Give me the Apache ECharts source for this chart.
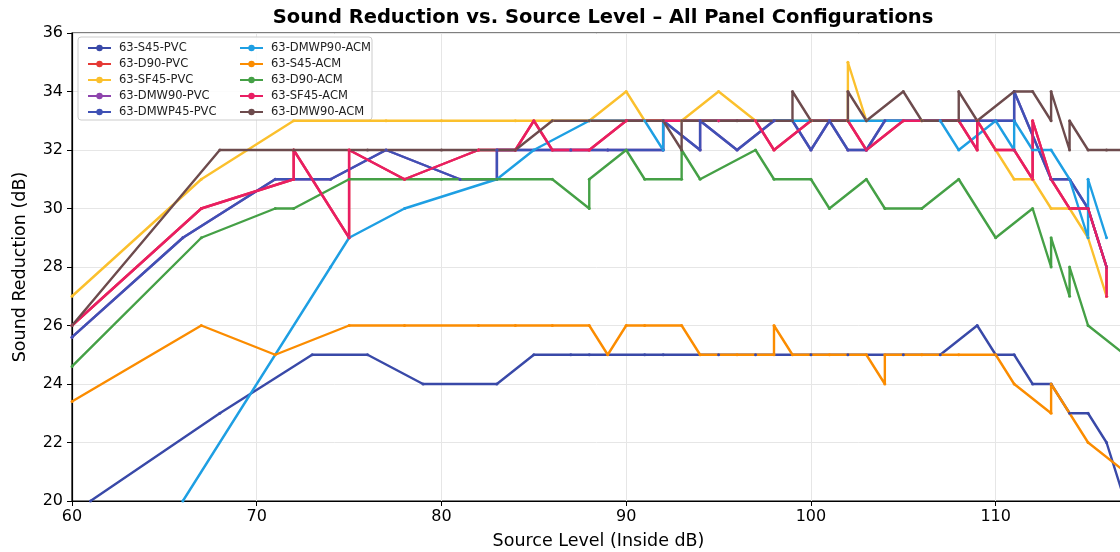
<!DOCTYPE html>
<html>
<head>
<meta charset="utf-8">
<script src="https://cdn.jsdelivr.net/npm/echarts@6/dist/echarts.min.js"></script>
<style>
html,body{margin:0;padding:0;background:#fff;}
#chart{width:1120px;height:552px;}
</style>
</head>
<body>
<div id="chart"></div>
<script>
// ---- Data (x = source level, y = sound reduction) ----
const seriesNames = ['63-S45-PVC','63-D90-PVC','63-SF45-PVC','63-DMW90-PVC','63-DMWP45-PVC',
                     '63-DMWP90-ACM','63-S45-ACM','63-D90-ACM','63-SF45-ACM','63-DMW90-ACM'];
const seriesColors = ['#3949a8','#e53935','#fbc02d','#8e44ad','#3f51b5',
                      '#1e9fe3','#fb8c00','#45a046','#e91e63','#6d4b4d'];

const s45PVC = [[61,20],[68,23],[73,25],[76,25],[79,24],[83,24],[85,25],[87,25],[88,25],[91,25],[92,25],[95,25],[97,25],[100,25],[102,25],[105,25],[107,25],[109,26],[110,25],[111,25],[112,24],[113,24],[114,23],[115,23],[116,22],[117,20]];
const sf45ACM = [[60,26],[67,30],[72,31],[72,32],[75,29],[75,32],[78,31],[82,32],[84,32],[85,33],[86,32],[88,32],[90,33],[92,33],[95,33],[97,33],[98,32],[100,33],[102,33],[103,32],[105,33],[108,33],[109,32],[109,33],[110,32],[111,32],[112,31],[112,33],[113,31],[114,30],[115,30],[116,28],[116,27]];
const d90PVC = sf45ACM.map(p => p.slice());
const sf45PVC = [[60,27],[67,31],[72,33],[77,33],[80,33],[84,33],[86,33],[88,33],[90,34],[91,33],[93,33],[95,34],[97,33],[100,33],[102,33],[102,35],[103,33],[106,33],[109,33],[110,32],[111,31],[112,31],[113,30],[114,30],[115,29],[116,27]];
const dmwp45PVC = [[60,25.6],[66,29],[71,31],[74,31],[77,32],[81,31],[83,31],[83,32],[87,32],[89,32],[92,32],[92,33],[94,32],[94,33],[96,32],[98,33],[99,33],[100,32],[101,33],[102,32],[103,32],[104,33],[107,33],[110,33],[111,33],[111,34],[113,31],[114,31],[115,30],[116,28]];
const dmw90PVC = dmwp45PVC.map(p => p.slice());
const dmwp90ACM = [[66,20],[74,28],[75,29],[78,30],[83,31],[85,32],[88,33],[91,33],[92,32],[92,33],[95,33],[99,33],[103,33],[107,33],[108,32],[110,33],[111,32],[111,33],[112,32],[113,32],[114,31],[115,29],[115,31],[116,29]];
const s45ACM = [[60,23.4],[67,26],[71,25],[75,26],[78,26],[82,26],[84,26],[86,26],[88,26],[89,25],[90,26],[91,26],[93,26],[94,25],[96,25],[98,25],[98,26],[99,25],[101,25],[103,25],[104,24],[104,25],[106,25],[108,25],[110,25],[111,24],[113,23],[113,24],[115,22],[117,21]];
const d90ACM = [[60,24.6],[67,29],[71,30],[72,30],[75,31],[80,31],[83,31],[86,31],[88,30],[88,31],[90,32],[91,31],[93,31],[93,32],[94,31],[97,32],[98,31],[100,31],[101,30],[103,31],[104,30],[106,30],[108,31],[110,29],[112,30],[113,28],[113,29],[114,27],[114,28],[115,26],[117,25]];
const dmw90ACM = [[60,26],[68,32],[72,32],[76,32],[80,32],[84,32],[86,33],[88,33],[92,33],[93,32],[93,33],[96,33],[99,33],[99,34],[100,33],[102,33],[102,34],[103,33],[105,34],[106,33],[108,33],[108,34],[109,33],[111,34],[112,34],[113,33],[113,34],[114,32],[114,33],[115,32],[116,32],[117,32]];

const seriesData = [s45PVC, d90PVC, sf45PVC, dmw90PVC, dmwp45PVC, dmwp90ACM, s45ACM, d90ACM, sf45ACM, dmw90ACM];

const xTicks = {min: 60, max: 117, interval: 10};
const yTicks = {min: 20, max: 36, interval: 2};

const FONT = 'DejaVu Sans';
const chart = echarts.init(document.getElementById('chart'), null, {renderer: 'canvas'});

const series = seriesNames.map((name, i) => ({
  name: name,
  type: 'line',
  data: seriesData[i],
  color: seriesColors[i],
  symbol: 'circle',
  symbolSize: 3,
  showSymbol: true,
  lineStyle: {width: 2.4, color: seriesColors[i]},
  itemStyle: {color: seriesColors[i]},
  animation: false,
  clip: true
}));

const legendCommon = {
  orient: 'vertical',
  top: 37,
  itemWidth: 23,
  itemHeight: 8,
  itemGap: 4,
  textStyle: {fontFamily: FONT, fontSize: 11.5, color: '#222', lineHeight: 12, padding: [0, 0, 0, 3]},
  selectedMode: false
};

chart.setOption({
  backgroundColor: '#fff',
  animation: false,
  title: {
    text: 'Sound Reduction vs. Source Level \u2013 All Panel Configurations',
    left: 598, top: 3, textAlign: 'center',
    textStyle: {fontFamily: FONT, fontSize: 19.5, fontWeight: 'bold', color: '#000'}
  },
  graphic: [{
    type: 'rect', z: 3,
    shape: {x: 78, y: 37, width: 294, height: 83, r: 3},
    style: {fill: 'rgba(255,255,255,0.85)', stroke: '#cccccc', lineWidth: 1}
  }],
  legend: [
    Object.assign({}, legendCommon, {left: 82, data: seriesNames.slice(0,5)}),
    Object.assign({}, legendCommon, {left: 234, data: seriesNames.slice(5)})
  ],
  grid: {left: 72, top: 33, right: -5, bottom: 51, outerBoundsMode: 'none', containLabel: false,
         show: true, borderColor: '#000', borderWidth: 1.2, backgroundColor: 'transparent'},
  xAxis: {
    type: 'value', min: xTicks.min, max: xTicks.max, interval: xTicks.interval,
    name: 'Source Level (Inside dB)', nameLocation: 'middle', nameGap: 31,
    nameTextStyle: {fontFamily: FONT, fontSize: 17.5, color: '#000'},
    axisLine: {show: true, onZero: false, lineStyle: {color: '#000', width: 1.2}},
    axisTick: {show: true, length: 5, lineStyle: {color: '#000'}},
    axisLabel: {fontFamily: FONT, fontSize: 16, color: '#000', margin: 8, showMaxLabel: false},
    splitLine: {show: true, lineStyle: {color: '#e6e6e6', width: 1}}
  },
  yAxis: {
    type: 'value', min: yTicks.min, max: yTicks.max, interval: yTicks.interval,
    name: 'Sound Reduction (dB)', nameLocation: 'middle', nameGap: 43,
    nameTextStyle: {fontFamily: FONT, fontSize: 17.5, color: '#000'},
    axisLine: {show: true, onZero: false, lineStyle: {color: '#000', width: 1.2}},
    axisTick: {show: true, length: 5, lineStyle: {color: '#000'}},
    axisLabel: {fontFamily: FONT, fontSize: 16, color: '#000', margin: 9},
    splitLine: {show: true, lineStyle: {color: '#e6e6e6', width: 1}}
  },
  series: series
});
</script>
</body>
</html>
